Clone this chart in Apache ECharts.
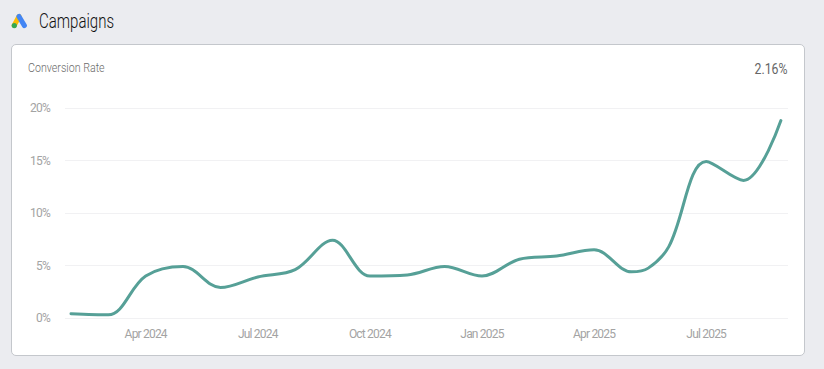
<!DOCTYPE html>
<html><head><meta charset="utf-8">
<style>
html,body{margin:0;padding:0;width:824px;height:369px;overflow:hidden;background:#ebecf0;font-family:Roboto,sans-serif}
#icon{position:absolute;left:11px;top:13px}
#title{position:absolute;left:39px;top:9px;font-size:20px;line-height:24px;font-weight:300;color:#111;transform:scaleX(.75);transform-origin:left center}
#card{position:absolute;left:11px;top:44px;width:792px;height:310px;background:#fff;border:1px solid #c4c7cc;border-radius:5px}
#sub{position:absolute;left:28px;top:60px;font-size:13px;line-height:16px;color:#6b6b6b;font-weight:300;transform:scaleX(.82);transform-origin:left center}
#val{position:absolute;right:36px;top:60px;font-size:14px;line-height:18px;color:#666;transform:scaleX(.88);transform-origin:right center}
#chart{position:absolute;left:0;top:0;width:824px;height:369px;letter-spacing:-.8px}
</style></head><body>
<div id="card"></div>
<svg id="icon" width="17" height="16" viewBox="0 0 17 16">
<path d="M8 3.5 L3.2 12.5" stroke="#fbbc04" stroke-width="5" stroke-linecap="round" fill="none"/>
<path d="M8 3.5 L13.4 12.6" stroke="#4285f4" stroke-width="5" stroke-linecap="round" fill="none"/>
<circle cx="3.3" cy="12.6" r="2.6" fill="#34a853"/>
</svg>
<div id="title">Campaigns</div>
<div id="sub">Conversion Rate</div>
<div id="val">2.16%</div>
<div id="chart"></div>
<script src="https://cdn.jsdelivr.net/npm/echarts@6/dist/echarts.min.js"></script>
<script>
const months = ['Feb 2024','Mar 2024','Apr 2024','May 2024','Jun 2024','Jul 2024','Aug 2024','Sep 2024','Oct 2024','Nov 2024','Dec 2024','Jan 2025','Feb 2025','Mar 2025','Apr 2025','May 2025','Jun 2025','Jul 2025','Aug 2025','Sep 2025'];
const pointAt = [0,1,2,3,4,5,6,7,8,9,10,11,12,13,14,15,15.45,16,17,18,19];
const rates = [0.4,0.3,4.0,4.9,2.9,3.9,4.6,7.4,4.0,4.1,4.9,4.0,5.6,5.9,6.5,4.4,4.75,6.8,14.9,13.1,18.8];
const labelled = ['Apr 2024','Jul 2024','Oct 2024','Jan 2025','Apr 2025','Jul 2025'];
const fontFamily = 'Roboto';
const chart = echarts.init(document.getElementById('chart'),null,{renderer:'svg'});
chart.setOption({
  animation:false,
  grid:{left:65,right:36,top:108,bottom:51,containLabel:false},
  xAxis:{type:'value',min:-0.16,max:19.19,
    axisLine:{show:false},axisTick:{show:false},splitLine:{show:false},
    axisLabel:{customValues:labelled.map(m=>months.indexOf(m)),formatter:v=>months[Math.round(v)],color:'#a3a3a3',fontSize:12,fontFamily,margin:10}},
  yAxis:{type:'value',min:0,max:20,interval:5,
    axisLine:{show:false},axisTick:{show:false},
    splitLine:{lineStyle:{color:'#f1f1f3',width:1}},
    axisLabel:{formatter:'{value}%',color:'#a3a3a3',fontSize:12,fontFamily,margin:15}},
  series:[{type:'line',data:rates.map((r,i)=>[pointAt[i],r]),smooth:0.35,showSymbol:false,
    lineStyle:{color:'#56a097',width:3,cap:'round'},itemStyle:{color:'#56a097'}}]
});
</script></body></html>
